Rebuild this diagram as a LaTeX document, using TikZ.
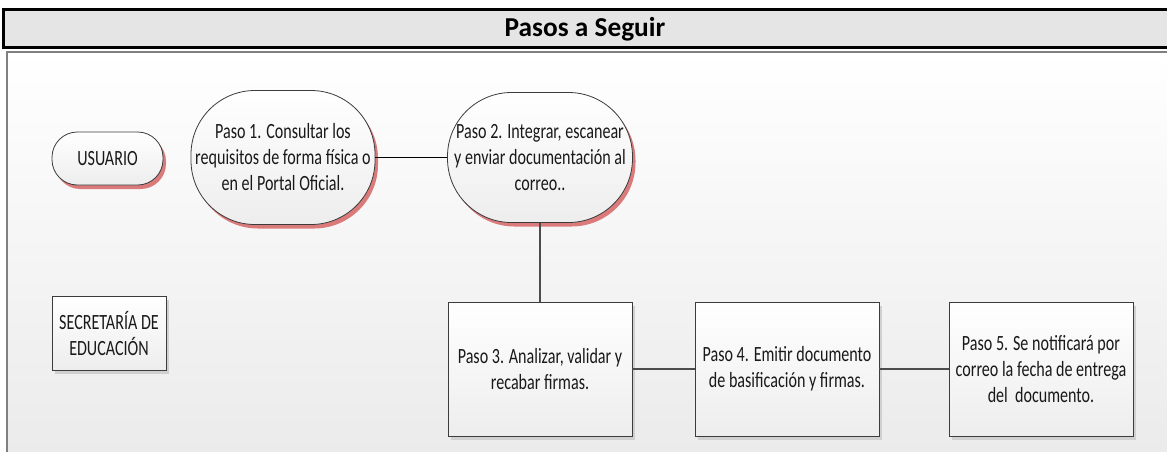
\documentclass[tikz,border=0pt]{standalone}
\usepackage{fontspec}
\newfontfamily\cuerpofont[FakeStretch=0.74]{Carlito}
\newfontfamily\titulofont{Carlito}
\usetikzlibrary{shadows}
\definecolor{sombraroja}{RGB}{218,122,122}
\definecolor{sombragris}{RGB}{208,208,208}
\definecolor{borde}{RGB}{60,60,60}
\tikzset{
  caja/.style={draw=borde, line width=0.6pt, top color=white, bottom color=black!7,
    inner sep=0pt, align=center, text=black!90,
    font=\cuerpofont\fontsize{16.3}{19.5}\selectfont},
  paso/.style={caja, minimum width=138pt, minimum height=100.5pt,
    drop shadow={shadow xshift=2.25pt, shadow yshift=-3pt, fill=sombragris, opacity=1}},
  pasoredondo/.style={caja, rounded corners=48pt,
    drop shadow={shadow xshift=2.25pt, shadow yshift=-3pt, fill=sombraroja, opacity=1}},
  linea/.style={draw=black!70, line width=1.1pt}
}

\begin{document}
\begin{tikzpicture}[x=0.75pt, y=-0.75pt]
			%%%%% START %%%%%
			\useasboundingbox (0, 0) rectangle (1167, 451);
			
			% panel
			\shade[top color=white, bottom color=black!8] (7, 52) rectangle (1175, 460);
			\draw[line width=1.5pt, color=black!50] (7, 460) -- (7, 52) -- (1175, 52);
			
			% titulo
			\draw[line width=2.25pt, fill=black!10] (3.5, 9.5) rectangle (1175, 47.5);
			\node[font=\titulofont\bfseries\fontsize{20.5}{24}\selectfont] (titulo) at (585, 29) {Pasos a Seguir};
			
			% actores
			\node[caja, rounded corners=19pt, minimum width=83.25pt, minimum height=39.75pt,
			  drop shadow={shadow xshift=2.25pt, shadow yshift=-3pt, fill=sombraroja, opacity=1}]
			  (usuario) at (107.5, 158.5) {USUARIO};
			\node[caja, minimum width=85.5pt, minimum height=55.5pt,
			  drop shadow={shadow xshift=2.25pt, shadow yshift=-3pt, fill=sombragris, opacity=1}]
			  (secretaria) at (109, 333) {SECRETARÍA DE\\EDUCACIÓN};
			
			% pasos
			\node[pasoredondo, minimum width=138pt, minimum height=100.5pt] (paso1) at (283, 157.5)
			  {Paso 1. Consultar los\\requisitos de forma física o\\en el Portal Oficial.};
			\node[pasoredondo, minimum width=138.75pt, minimum height=97.5pt] (paso2) at (540, 157.5)
			  {Paso 2. Integrar, escanear\\y enviar documentación al\\correo..};
			\node[paso] (paso3) at (540, 369) {Paso 3. Analizar, validar y\\recabar firmas.};
			\node[paso] (paso4) at (787, 369) {Paso 4. Emitir documento\\de basificación y firmas.};
			\node[paso] (paso5) at (1041, 369) {Paso 5. Se notificará por\\correo la fecha de entrega\\del~ documento.};
			
			\draw[line width=0.8pt] (paso1) -- (paso2);
			\draw[linea] (paso2) -- (paso3);
			\draw[linea] (paso3) -- (paso4);
			\draw[linea] (paso4) -- (paso5);
			%%%%% END %%%%%
\end{tikzpicture}
\end{document}
